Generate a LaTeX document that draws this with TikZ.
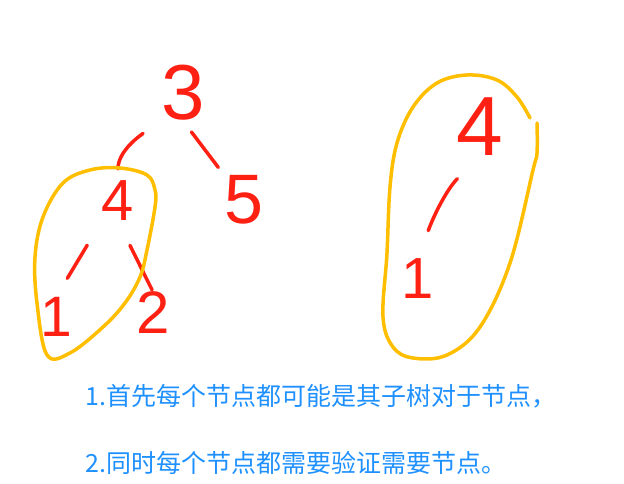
\documentclass[tikz,border=0pt]{standalone}
\usepackage{fontspec}
\setmainfont{Liberation Sans}
\newfontfamily\cjk{Noto Sans CJK SC}
\definecolor{penred}{RGB}{255,32,20}
\definecolor{penyellow}{RGB}{255,190,0}
\definecolor{noteblue}{RGB}{30,144,255}

\begin{document}
\begin{tikzpicture}[x=1pt, y=1pt,
    digit/.style={text=penred, inner sep=0pt},
    edge/.style={draw=penred, line width=3.5pt, line cap=round},
    blob/.style={draw=penyellow, line width=3.5pt, line cap=round, line join=round},
    note/.style={text=noteblue, anchor=base west, inner sep=0pt, font=\cjk\fontsize{25}{28}\selectfont}]
	\useasboundingbox (0,0) rectangle (624,483);
	
	% left tree
	\node[digit, font=\fontsize{78}{80}\selectfont] (n3) at (183,390) {3};
	\node[digit, font=\fontsize{58}{60}\selectfont] (n4l) at (118,282) {4};
	\node[digit, font=\fontsize{70}{72}\selectfont] (n5) at (244,283) {5};
	\node[digit, font=\fontsize{57}{60}\selectfont] (n1l) at (56,166) {1};
	\node[digit, font=\fontsize{60}{62}\selectfont] (n2) at (153,170) {2};
	
	\draw[edge, shorten <=22, shorten >=12] (n3.south west) to[out=215, in=90] (n4l.north);
	\draw[edge, shorten <=14, shorten >=10] (n3.south) -- (n5.north west);
	\draw[edge, shorten <=28, shorten >=22] (n4l.south west) -- (n1l.north);
	\draw[edge, shorten <=27, shorten >=2] (n4l.south) -- (n2.north);
	
	% right subtree
	\node[digit, font=\fontsize{84}{86}\selectfont] (n4r) at (480,356) {4};
	\node[digit, font=\fontsize{58}{60}\selectfont] (n1r) at (418,204) {1};
	
	\draw[edge, shorten <=32, shorten >=30] (n4r.south) to[out=225, in=70] (n1r.north);
	
	% circled parts
	\draw[blob] plot[smooth cycle, tension=0.6] coordinates {(90,313) (120,315) (147,308) (155,293) (155,276)
		(147,233) (140,206) (125,180) (103,156) (70,130) (47,128) (37,180) (35,226) (43,266) (63,300)};
	\draw[blob] plot[smooth, tension=0.6] coordinates {(530,365) (517,386) (497,403) (467,408) (437,400)
		(413,376) (397,340) (390,296) (387,230) (383,166) (393,136) (413,125) (447,128) (480,156)
		(510,220) (533,313) (537,330) (537,360)};
	
	% notes
	\node[note] (t1) at (85,78) {1.首先每个节点都可能是其子树对于节点，};
	\node[note] (t2) at (85,11) {2.同时每个节点都需要验证需要节点。};
	
\end{tikzpicture}
\end{document}
